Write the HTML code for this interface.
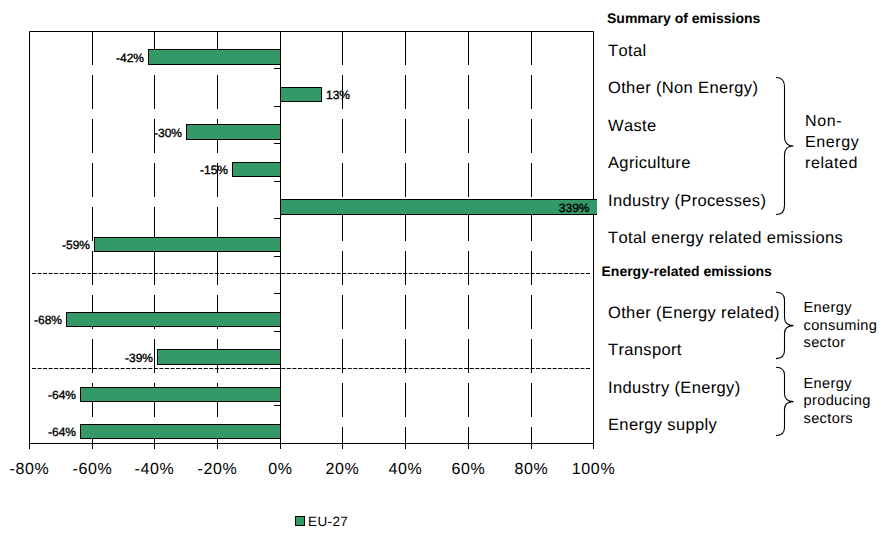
<!DOCTYPE html><html><head><meta charset="utf-8"><style>html,body{margin:0;padding:0;background:#fff;width:892px;height:552px;overflow:hidden}svg{display:block}text{font-family:"Liberation Sans",sans-serif;fill:#000;font-kerning:none;text-rendering:geometricPrecision}</style></head><body>
<svg width="892" height="552" viewBox="0 0 892 552">
<path d="M29.5,31.5 H593.5 V443.5 H29.5 Z" fill="none" stroke="#000" stroke-width="1"/>
<line x1="92.5" y1="31" x2="92.5" y2="443" stroke="#000" stroke-width="1" stroke-dasharray="34 10"/>
<line x1="154.5" y1="31" x2="154.5" y2="443" stroke="#000" stroke-width="1" stroke-dasharray="34 10"/>
<line x1="217.5" y1="31" x2="217.5" y2="443" stroke="#000" stroke-width="1" stroke-dasharray="34 10"/>
<line x1="342.5" y1="31" x2="342.5" y2="443" stroke="#000" stroke-width="1" stroke-dasharray="34 10"/>
<line x1="405.5" y1="31" x2="405.5" y2="443" stroke="#000" stroke-width="1" stroke-dasharray="34 10"/>
<line x1="468.5" y1="31" x2="468.5" y2="443" stroke="#000" stroke-width="1" stroke-dasharray="34 10"/>
<line x1="531.5" y1="31" x2="531.5" y2="443" stroke="#000" stroke-width="1" stroke-dasharray="34 10"/>
<line x1="32" y1="273.5" x2="590" y2="273.5" stroke="#000" stroke-width="1" stroke-dasharray="4 1.54"/>
<line x1="32" y1="368.5" x2="590" y2="368.5" stroke="#000" stroke-width="1" stroke-dasharray="4 1.54"/>
<rect x="148.50" y="49.5" width="132.00" height="15" fill="#339966" stroke="#000" stroke-width="1"/>
<rect x="280.50" y="87.5" width="41.00" height="14" fill="#339966" stroke="#000" stroke-width="1"/>
<rect x="186.50" y="124.5" width="94.00" height="15" fill="#339966" stroke="#000" stroke-width="1"/>
<rect x="232.50" y="162.5" width="48.00" height="14" fill="#339966" stroke="#000" stroke-width="1"/>
<rect x="280.50" y="199.5" width="316.50" height="15" fill="#339966"/>
<path d="M597,199.5 H280.50 V214.5 H597" fill="none" stroke="#000" stroke-width="1"/>
<rect x="94.50" y="237.5" width="186.00" height="14" fill="#339966" stroke="#000" stroke-width="1"/>
<rect x="66.50" y="312.5" width="214.00" height="14" fill="#339966" stroke="#000" stroke-width="1"/>
<rect x="157.50" y="349.5" width="123.00" height="15" fill="#339966" stroke="#000" stroke-width="1"/>
<rect x="80.50" y="387.5" width="200.00" height="14" fill="#339966" stroke="#000" stroke-width="1"/>
<rect x="80.50" y="424.5" width="200.00" height="14" fill="#339966" stroke="#000" stroke-width="1"/>
<line x1="280.5" y1="31" x2="280.5" y2="449" stroke="#000" stroke-width="1"/>
<line x1="274" y1="68.5" x2="280" y2="68.5" stroke="#000" stroke-width="1"/>
<line x1="274" y1="106.5" x2="280" y2="106.5" stroke="#000" stroke-width="1"/>
<line x1="274" y1="143.5" x2="280" y2="143.5" stroke="#000" stroke-width="1"/>
<line x1="274" y1="181.5" x2="280" y2="181.5" stroke="#000" stroke-width="1"/>
<line x1="274" y1="218.5" x2="280" y2="218.5" stroke="#000" stroke-width="1"/>
<line x1="274" y1="256.5" x2="280" y2="256.5" stroke="#000" stroke-width="1"/>
<line x1="274" y1="293.5" x2="280" y2="293.5" stroke="#000" stroke-width="1"/>
<line x1="274" y1="331.5" x2="280" y2="331.5" stroke="#000" stroke-width="1"/>
<line x1="274" y1="368.5" x2="280" y2="368.5" stroke="#000" stroke-width="1"/>
<line x1="274" y1="405.5" x2="280" y2="405.5" stroke="#000" stroke-width="1"/>
<line x1="29.5" y1="443" x2="29.5" y2="449" stroke="#000" stroke-width="1"/>
<line x1="92.5" y1="443" x2="92.5" y2="449" stroke="#000" stroke-width="1"/>
<line x1="154.5" y1="443" x2="154.5" y2="449" stroke="#000" stroke-width="1"/>
<line x1="217.5" y1="443" x2="217.5" y2="449" stroke="#000" stroke-width="1"/>
<line x1="280.5" y1="443" x2="280.5" y2="449" stroke="#000" stroke-width="1"/>
<line x1="342.5" y1="443" x2="342.5" y2="449" stroke="#000" stroke-width="1"/>
<line x1="405.5" y1="443" x2="405.5" y2="449" stroke="#000" stroke-width="1"/>
<line x1="468.5" y1="443" x2="468.5" y2="449" stroke="#000" stroke-width="1"/>
<line x1="531.5" y1="443" x2="531.5" y2="449" stroke="#000" stroke-width="1"/>
<line x1="593.5" y1="443" x2="593.5" y2="449" stroke="#000" stroke-width="1"/>
<text x="144.0" y="61.5" font-size="12" stroke="#000" stroke-width="0.35" text-anchor="end">-42%</text>
<text x="326.0" y="99.0" font-size="12" stroke="#000" stroke-width="0.35">13%</text>
<text x="182.0" y="136.5" font-size="12" stroke="#000" stroke-width="0.35" text-anchor="end">-30%</text>
<text x="228.0" y="174.0" font-size="12" stroke="#000" stroke-width="0.35" text-anchor="end">-15%</text>
<text x="589.5" y="211.5" font-size="12" stroke="#000" stroke-width="0.35" text-anchor="end">339%</text>
<text x="90.0" y="249.0" font-size="12" stroke="#000" stroke-width="0.35" text-anchor="end">-59%</text>
<text x="62.0" y="324.0" font-size="12" stroke="#000" stroke-width="0.35" text-anchor="end">-68%</text>
<text x="153.0" y="361.5" font-size="12" stroke="#000" stroke-width="0.35" text-anchor="end">-39%</text>
<text x="76.0" y="399.0" font-size="12" stroke="#000" stroke-width="0.35" text-anchor="end">-64%</text>
<text x="76.0" y="436.0" font-size="12" stroke="#000" stroke-width="0.35" text-anchor="end">-64%</text>
<text x="29.5" y="474" font-size="16" letter-spacing="0.65" text-anchor="middle">-80%</text>
<text x="92.5" y="474" font-size="16" letter-spacing="0.65" text-anchor="middle">-60%</text>
<text x="154.5" y="474" font-size="16" letter-spacing="0.65" text-anchor="middle">-40%</text>
<text x="217.5" y="474" font-size="16" letter-spacing="0.65" text-anchor="middle">-20%</text>
<text x="280.5" y="474" font-size="16" letter-spacing="0.65" text-anchor="middle">0%</text>
<text x="342.5" y="474" font-size="16" letter-spacing="0.65" text-anchor="middle">20%</text>
<text x="405.5" y="474" font-size="16" letter-spacing="0.65" text-anchor="middle">40%</text>
<text x="468.5" y="474" font-size="16" letter-spacing="0.65" text-anchor="middle">60%</text>
<text x="531.5" y="474" font-size="16" letter-spacing="0.65" text-anchor="middle">80%</text>
<text x="593.5" y="474" font-size="16" letter-spacing="0.65" text-anchor="middle">100%</text>
<rect x="295.5" y="516.5" width="9" height="9" fill="#339966" stroke="#000" stroke-width="1"/>
<text x="308" y="525.5" font-size="13.5" letter-spacing="0.4">EU-27</text>
<text x="608" y="55.8" font-size="16.5" letter-spacing="0.35">Total</text>
<text x="608" y="93.2" font-size="16.5" letter-spacing="0.35">Other (Non Energy)</text>
<text x="608" y="130.7" font-size="16.5" letter-spacing="0.35">Waste</text>
<text x="608" y="168.2" font-size="16.5" letter-spacing="0.35">Agriculture</text>
<text x="608" y="205.6" font-size="16.5" letter-spacing="0.35">Industry (Processes)</text>
<text x="608" y="243.1" font-size="16.5" letter-spacing="0.35">Total energy related emissions</text>
<text x="608" y="318.0" font-size="16.5" letter-spacing="0.35">Other (Energy related)</text>
<text x="608" y="355.4" font-size="16.5" letter-spacing="0.35">Transport</text>
<text x="608" y="392.9" font-size="16.5" letter-spacing="0.35">Industry (Energy)</text>
<text x="608" y="430.3" font-size="16.5" letter-spacing="0.35">Energy supply</text>
<text x="607" y="22.8" font-size="14" font-weight="bold">Summary of emissions</text>
<text x="601.5" y="276.3" font-size="14" font-weight="bold">Energy-related emissions</text>
<text x="805" y="126.1" font-size="16" letter-spacing="0.6">Non-</text>
<text x="805" y="147.1" font-size="16" letter-spacing="0.6">Energy</text>
<text x="805" y="167.8" font-size="16" letter-spacing="0.6">related</text>
<text x="803.5" y="311.8" font-size="14.6" letter-spacing="0.35">Energy</text>
<text x="803.5" y="329.5" font-size="14.6" letter-spacing="0.35">consuming</text>
<text x="803.5" y="347.3" font-size="14.6" letter-spacing="0.35">sector</text>
<text x="803.5" y="387.7" font-size="14.6" letter-spacing="0.35">Energy</text>
<text x="803.5" y="405.1" font-size="14.6" letter-spacing="0.35">producing</text>
<text x="803.5" y="423.2" font-size="14.6" letter-spacing="0.35">sectors</text>
<path d="M776,77.5 Q784.5,77.5 784.5,86.5 V137 Q784.5,146 793.5,146 Q784.5,146 784.5,155 V205.5 Q784.5,214.5 776,214.5" fill="none" stroke="#000" stroke-width="1.1"/>
<path d="M776,292.2 Q784.5,292.2 784.5,300.2 V317.6 Q784.5,325.6 793.5,325.6 Q784.5,325.6 784.5,333.6 V350.6 Q784.5,358.6 776,358.6" fill="none" stroke="#000" stroke-width="1.1"/>
<path d="M776,367.2 Q784.5,367.2 784.5,375.2 V393.6 Q784.5,401.6 793.5,401.6 Q784.5,401.6 784.5,409.6 V427.6 Q784.5,435.6 776,435.6" fill="none" stroke="#000" stroke-width="1.1"/>
</svg></body></html>
